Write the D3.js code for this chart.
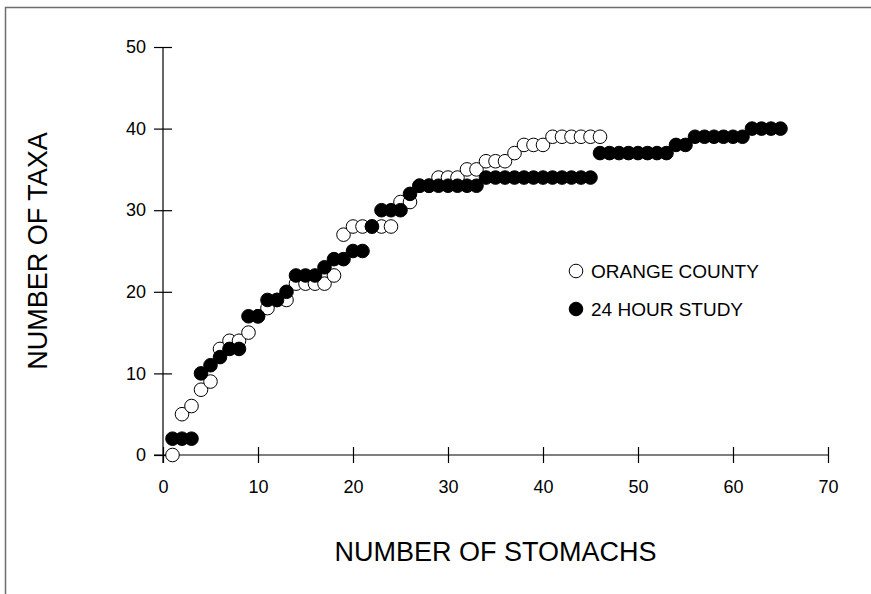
<!DOCTYPE html>
<html>
<head>
<meta charset="utf-8">
<script src="https://cdn.jsdelivr.net/npm/d3@7"></script>
<style>
  html, body { margin: 0; padding: 0; background: #fff; }
  svg { display: block; font-family: "Liberation Sans", Arial, sans-serif; }
</style>
</head>
<body>
<svg id="chart" width="871" height="594"></svg>
<script>
// ---- data ----
const orangeX = d3.range(1, 47);
const orangeY = [0, 5, 6, 8, 9, 13, 14, 14, 15, 17, 18, 19, 19, 21, 21, 21, 21, 22, 27, 28,
                 28, 28, 28, 28, 31, 31, 33, 33, 34, 34, 34, 35, 35, 36, 36, 36, 37, 38, 38, 38,
                 39, 39, 39, 39, 39, 39];
const studyX = d3.range(1, 66);
const studyY = [2, 2, 2, 10, 11, 12, 13, 13, 17, 17, 19, 19, 20, 22, 22, 22, 23, 24, 24, 25,
                25, 28, 30, 30, 30, 32, 33, 33, 33, 33, 33, 33, 33, 34, 34, 34, 34, 34, 34, 34,
                34, 34, 34, 34, 34, 37, 37, 37, 37, 37, 37, 37, 37, 38, 38, 39, 39, 39, 39, 39,
                39, 40, 40, 40, 40];
const xTicks = [0, 10, 20, 30, 40, 50, 60, 70];
const yTicks = [0, 10, 20, 30, 40, 50];
const seriesNames = ["ORANGE COUNTY", "24 HOUR STUDY"];

// ---- layout ----
const svg = d3.select("#chart");
const pLeft = 163, pRight = 828, pTop = 47, pBottom = 455;
const x = d3.scaleLinear().domain([0, 70]).range([pLeft, pRight]);
const y = d3.scaleLinear().domain([0, 50]).range([pBottom, pTop]);
const r = 6.8;

// frame
svg.append("path").attr("d", "M5.5,594 L5.5,7.5 L871,7.5")
  .attr("fill", "none").attr("stroke", "#6e6e6e").attr("stroke-width", 1.5);

// axes (ticks crossing the axis line)
const gx = svg.append("g").attr("transform", `translate(0,${pBottom})`)
  .call(d3.axisBottom(x).tickValues(xTicks).tickSize(0).tickPadding(25));
gx.select(".domain").remove();
gx.selectAll("text").attr("font-size", 18).attr("fill", "#000")
  .attr("font-family", "Liberation Sans, Arial, sans-serif");
gx.selectAll(".tick").append("line").attr("y1", -8).attr("y2", 8)
  .attr("stroke", "#000").attr("stroke-width", 1.2);
gx.append("line").attr("x1", pLeft - 9).attr("x2", pRight).attr("stroke", "#000").attr("stroke-width", 1.2);

const gy = svg.append("g").attr("transform", `translate(${pLeft},0)`)
  .call(d3.axisLeft(y).tickValues(yTicks).tickSize(0).tickPadding(17));
gy.select(".domain").remove();
gy.selectAll("text").attr("font-size", 18).attr("fill", "#000")
  .attr("font-family", "Liberation Sans, Arial, sans-serif");
gy.selectAll(".tick").append("line").attr("x1", -9).attr("x2", 9)
  .attr("stroke", "#000").attr("stroke-width", 1.2);
gy.append("line").attr("y1", pTop).attr("y2", pBottom + 8).attr("stroke", "#000").attr("stroke-width", 1.2);

// axis titles
svg.append("text").attr("x", (pLeft + pRight) / 2).attr("y", 561)
  .attr("text-anchor", "middle").attr("font-size", 27).text("NUMBER OF STOMACHS");
svg.append("text").attr("transform", `translate(47,${(pTop + pBottom) / 2}) rotate(-90)`)
  .attr("text-anchor", "middle").attr("font-size", 27).text("NUMBER OF TAXA");

// series
const orange = orangeX.map((d, i) => ({ x: d, y: orangeY[i] }));
const study = studyX.map((d, i) => ({ x: d, y: studyY[i] }));

svg.append("g").selectAll("circle").data(orange).join("circle")
  .attr("cx", d => x(d.x)).attr("cy", d => y(d.y)).attr("r", r)
  .attr("fill", "#fff").attr("stroke", "#000").attr("stroke-width", 1);
svg.append("g").selectAll("circle").data(study).join("circle")
  .attr("cx", d => x(d.x)).attr("cy", d => y(d.y)).attr("r", r)
  .attr("fill", "#000").attr("stroke", "#000").attr("stroke-width", 1);

// legend
const lg = svg.append("g");
const legendY = [271, 309];
seriesNames.forEach((name, i) => {
  lg.append("circle").attr("cx", 576).attr("cy", legendY[i]).attr("r", r)
    .attr("fill", i === 0 ? "#fff" : "#000").attr("stroke", "#000").attr("stroke-width", 1);
  lg.append("text").attr("x", 591).attr("y", legendY[i] + 7).attr("font-size", 19).text(name);
});
</script>
</body>
</html>
